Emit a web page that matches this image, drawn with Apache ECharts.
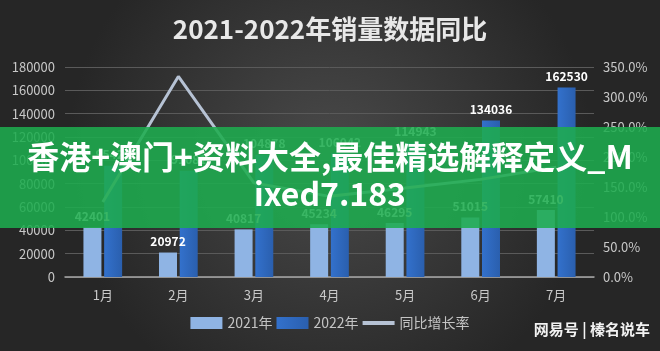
<!DOCTYPE html>
<html>
<head>
<meta charset="utf-8">
<script src="https://cdn.jsdelivr.net/npm/echarts@6/dist/echarts.min.js"></script>
<style>
html,body{margin:0;padding:0;}
#chart1{width:660px;height:351px;}
</style>
</head>
<body>
<div id="chart1"></div>
<script>
var months=['1月','2月','3月','4月','5月','6月','7月'];
var sales2021=[42401,20972,40817,45234,46295,51015,57410];
var sales2022=[95422,91081,104878,106042,114943,134036,162530];
var growth=[125.0,334.3,156.9,134.4,148.3,162.7,183.1];

chart1();

function chart1(){
	var myChart = echarts.init(document.getElementById('chart1'));
	var font='"Noto Sans CJK SC", "Noto Sans", sans-serif';
	var option = {
		backgroundColor: {
			type: 'radial', x: 0.5, y: 0.45, r: 0.75,
			colorStops: [{offset: 0, color: '#4a4a4a'}, {offset: 1, color: '#262626'}]
		},
		textStyle: {fontFamily: font},
		title: {
			text: '2021-2022年销量数据同比',
			left: 'center',
			top: 11,
			textStyle: {color: '#e8e8e8', fontSize: 26, fontWeight: 'bold', fontFamily: font}
		},
		legend: {
			bottom: 16,
			left: 'center',
			itemWidth: 32,
			itemHeight: 12,
			itemGap: 4,
			textStyle: {color: '#c4c4c4', fontSize: 14},
			data: [
				{name: '2021年', icon: 'rect'},
				{name: '2022年', icon: 'rect'},
				{name: '同比增长率', icon: 'path://M0,0 L32,0 L32,4 L0,4 Z'}
			]
		},
		grid: {left: 65, right: 66, top: 67, bottom: 74},
		xAxis: {
			type: 'category',
			data: months,
			axisTick: {show: false},
			axisLine: {show: true, lineStyle: {color: '#a8a8a8', width: 1.5}},
			axisLabel: {color: '#c8c8c8', fontSize: 13, margin: 12}
		},
		yAxis: [
			{
				type: 'value',
				min: 0, max: 180000, interval: 20000,
				axisLine: {show: false},
				axisTick: {show: false},
				axisLabel: {color: '#c8c8c8', fontSize: 13, margin: 10,
					formatter: function(v){ return String(v); }},
				splitLine: {lineStyle: {color: '#5a5a5a'}}
			},
			{
				type: 'value',
				min: 0, max: 350, interval: 50,
				axisLine: {show: false},
				axisTick: {show: false},
				splitLine: {show: false},
				axisLabel: {color: '#c8c8c8', fontSize: 13, margin: 9,
					formatter: function(v){ return v.toFixed(1) + '%'; }}
			}
		],
		series: [
			{
				name: '2021年',
				type: 'bar',
				barWidth: 18,
				barGap: '15%',
				itemStyle: {color: '#8fb4e4'},
				label: {show: true, position: 'top', color: '#fff', fontWeight: 'bold', fontSize: 12},
				data: sales2021
			},
			{
				name: '2022年',
				type: 'bar',
				barWidth: 18,
				itemStyle: {color: {type: 'linear', x: 0, y: 0, x2: 1, y2: 0,
					colorStops: [{offset: 0, color: '#3371cc'}, {offset: 1, color: '#2a5fae'}]}},
				label: {show: true, position: 'top', color: '#fff', fontWeight: 'bold', fontSize: 12},
				data: sales2022
			},
			{
				name: '同比增长率',
				type: 'line',
				yAxisIndex: 1,
				symbol: 'none',
				lineStyle: {color: '#b6c2d4', width: 3},
				itemStyle: {color: '#b6c2d4'},
				label: {show: true, position: 'right', distance: 12, color: '#d6d6d6', fontSize: 12,
					formatter: function(p){ return p.value.toFixed(1) + '%'; }},
				data: growth
			}
		],
		graphic: [
			{
				type: 'text',
				right: 10,
				bottom: 14,
				style: {text: '网易号 | 榛名说车', fill: '#f2f2f2', fontSize: 15, fontWeight: 'bold', fontFamily: font}
			},
			{
				type: 'rect',
				left: 0,
				top: 127,
				z: 100,
				shape: {width: 660, height: 101},
				style: {fill: 'rgba(30,172,78,0.88)'}
			},
			{
				type: 'text',
				z: 101,
				style: {
					x: 330,
					y: 138,
					text: '香港+澳门+资料大全,最佳精选解释定义_M\nixed7.183',
					fill: '#ffffff',
					fontSize: 32,
					fontWeight: 'bold',
					lineHeight: 37,
					align: 'center',
					verticalAlign: 'top',
					fontFamily: font
				}
			}
		]
	};
	myChart.setOption(option);
	window.addEventListener("resize",function() {
		myChart.resize();
	})
}
</script>
</body>
</html>
